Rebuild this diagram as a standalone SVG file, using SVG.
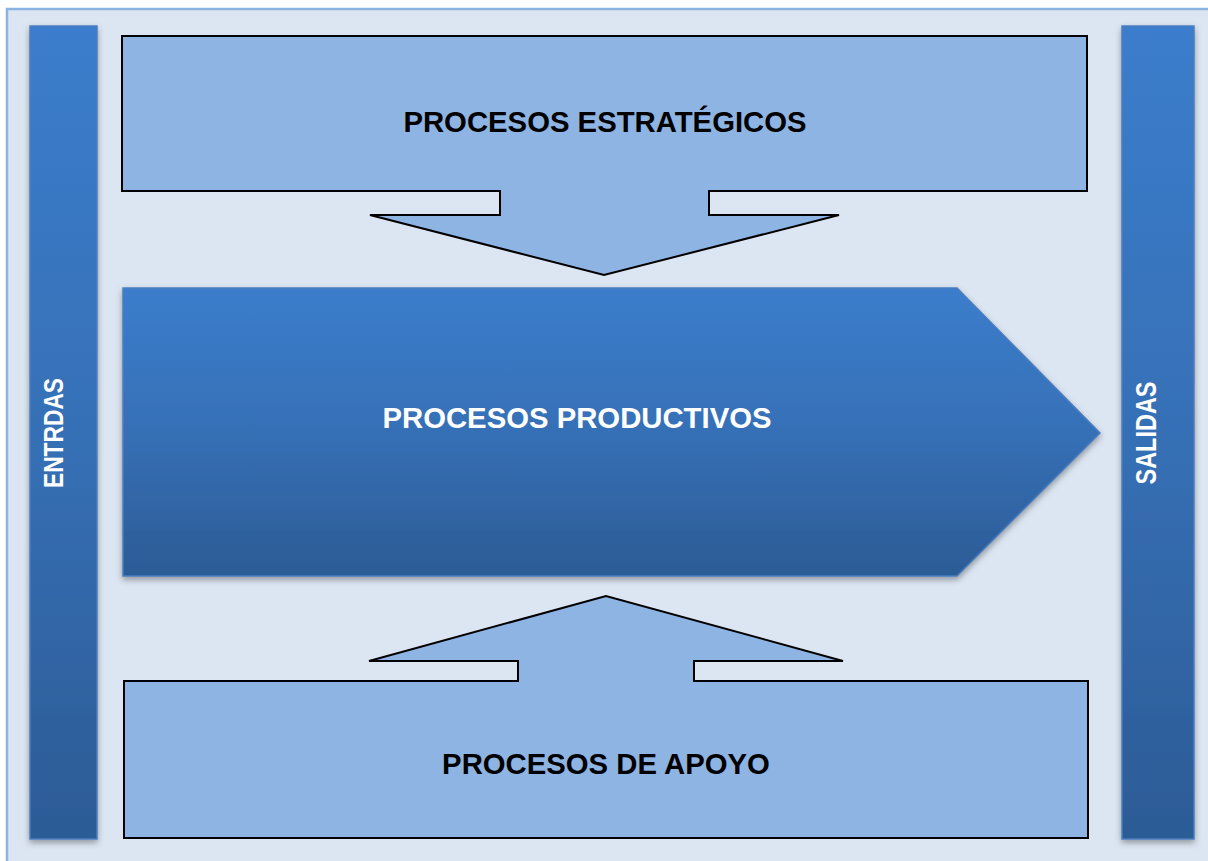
<svg xmlns="http://www.w3.org/2000/svg" width="1208" height="861" viewBox="0 0 1208 861">
<defs>
<linearGradient id="gBlue" x1="0" y1="0" x2="0" y2="1">
<stop offset="0" stop-color="#3b7dcc"/>
<stop offset="0.5" stop-color="#3670b6"/>
<stop offset="1" stop-color="#2c5b95"/>
</linearGradient>
<filter id="sh" x="-10%" y="-10%" width="120%" height="120%">
<feDropShadow dx="0" dy="3" stdDeviation="3" flood-color="#000" flood-opacity="0.35"/>
</filter>
<style>
.light{fill:#8eb4e3;stroke:#000;stroke-width:2;stroke-linejoin:miter}
.dark{fill:url(#gBlue);stroke:#4a7ebf;stroke-width:1.5;filter:url(#sh)}
.t{font-family:"Liberation Sans",Arial,sans-serif;font-weight:bold;font-size:29.3px;text-anchor:middle}
.w{fill:#fff}
.k{fill:#000}
</style>
</defs>
<rect x="0" y="0" width="1208" height="861" fill="#fff"/>
<rect x="7" y="9" width="1220" height="880" fill="#dce6f2" stroke="#8db3e2" stroke-width="2.5"/>
<g id="entradas">
<rect class="dark" x="30" y="26" width="67" height="813"/>
<text class="t w" transform="translate(63,433) rotate(-90)" textLength="110" lengthAdjust="spacingAndGlyphs" style="font-size:27px">ENTRDAS</text>
</g>
<g id="salidas">
<rect class="dark" x="1122" y="26" width="72" height="813"/>
<text class="t w" transform="translate(1156,433) rotate(-90)" textLength="103" lengthAdjust="spacingAndGlyphs">SALIDAS</text>
</g>
<g id="estrategicos">
<path class="light" d="M122,36 H1087 V191 H709 V215 H839 L604,275 L370,215 H500 V191 H122 Z"/>
<text class="t k" x="605" y="132">PROCESOS ESTRATÉGICOS</text>
</g>
<g id="productivos">
<path class="dark" d="M123,288 H957 L1100,433 L957,576 H123 Z"/>
<text class="t w" x="577" y="428">PROCESOS PRODUCTIVOS</text>
</g>
<g id="apoyo">
<path class="light" d="M124,838 H1088 V681 H694 V661 H843 L606,596 L369,661 H518 V681 H124 Z"/>
<text class="t k" x="606" y="774">PROCESOS DE APOYO</text>
</g>
<g id="connectors"></g>
</svg>
